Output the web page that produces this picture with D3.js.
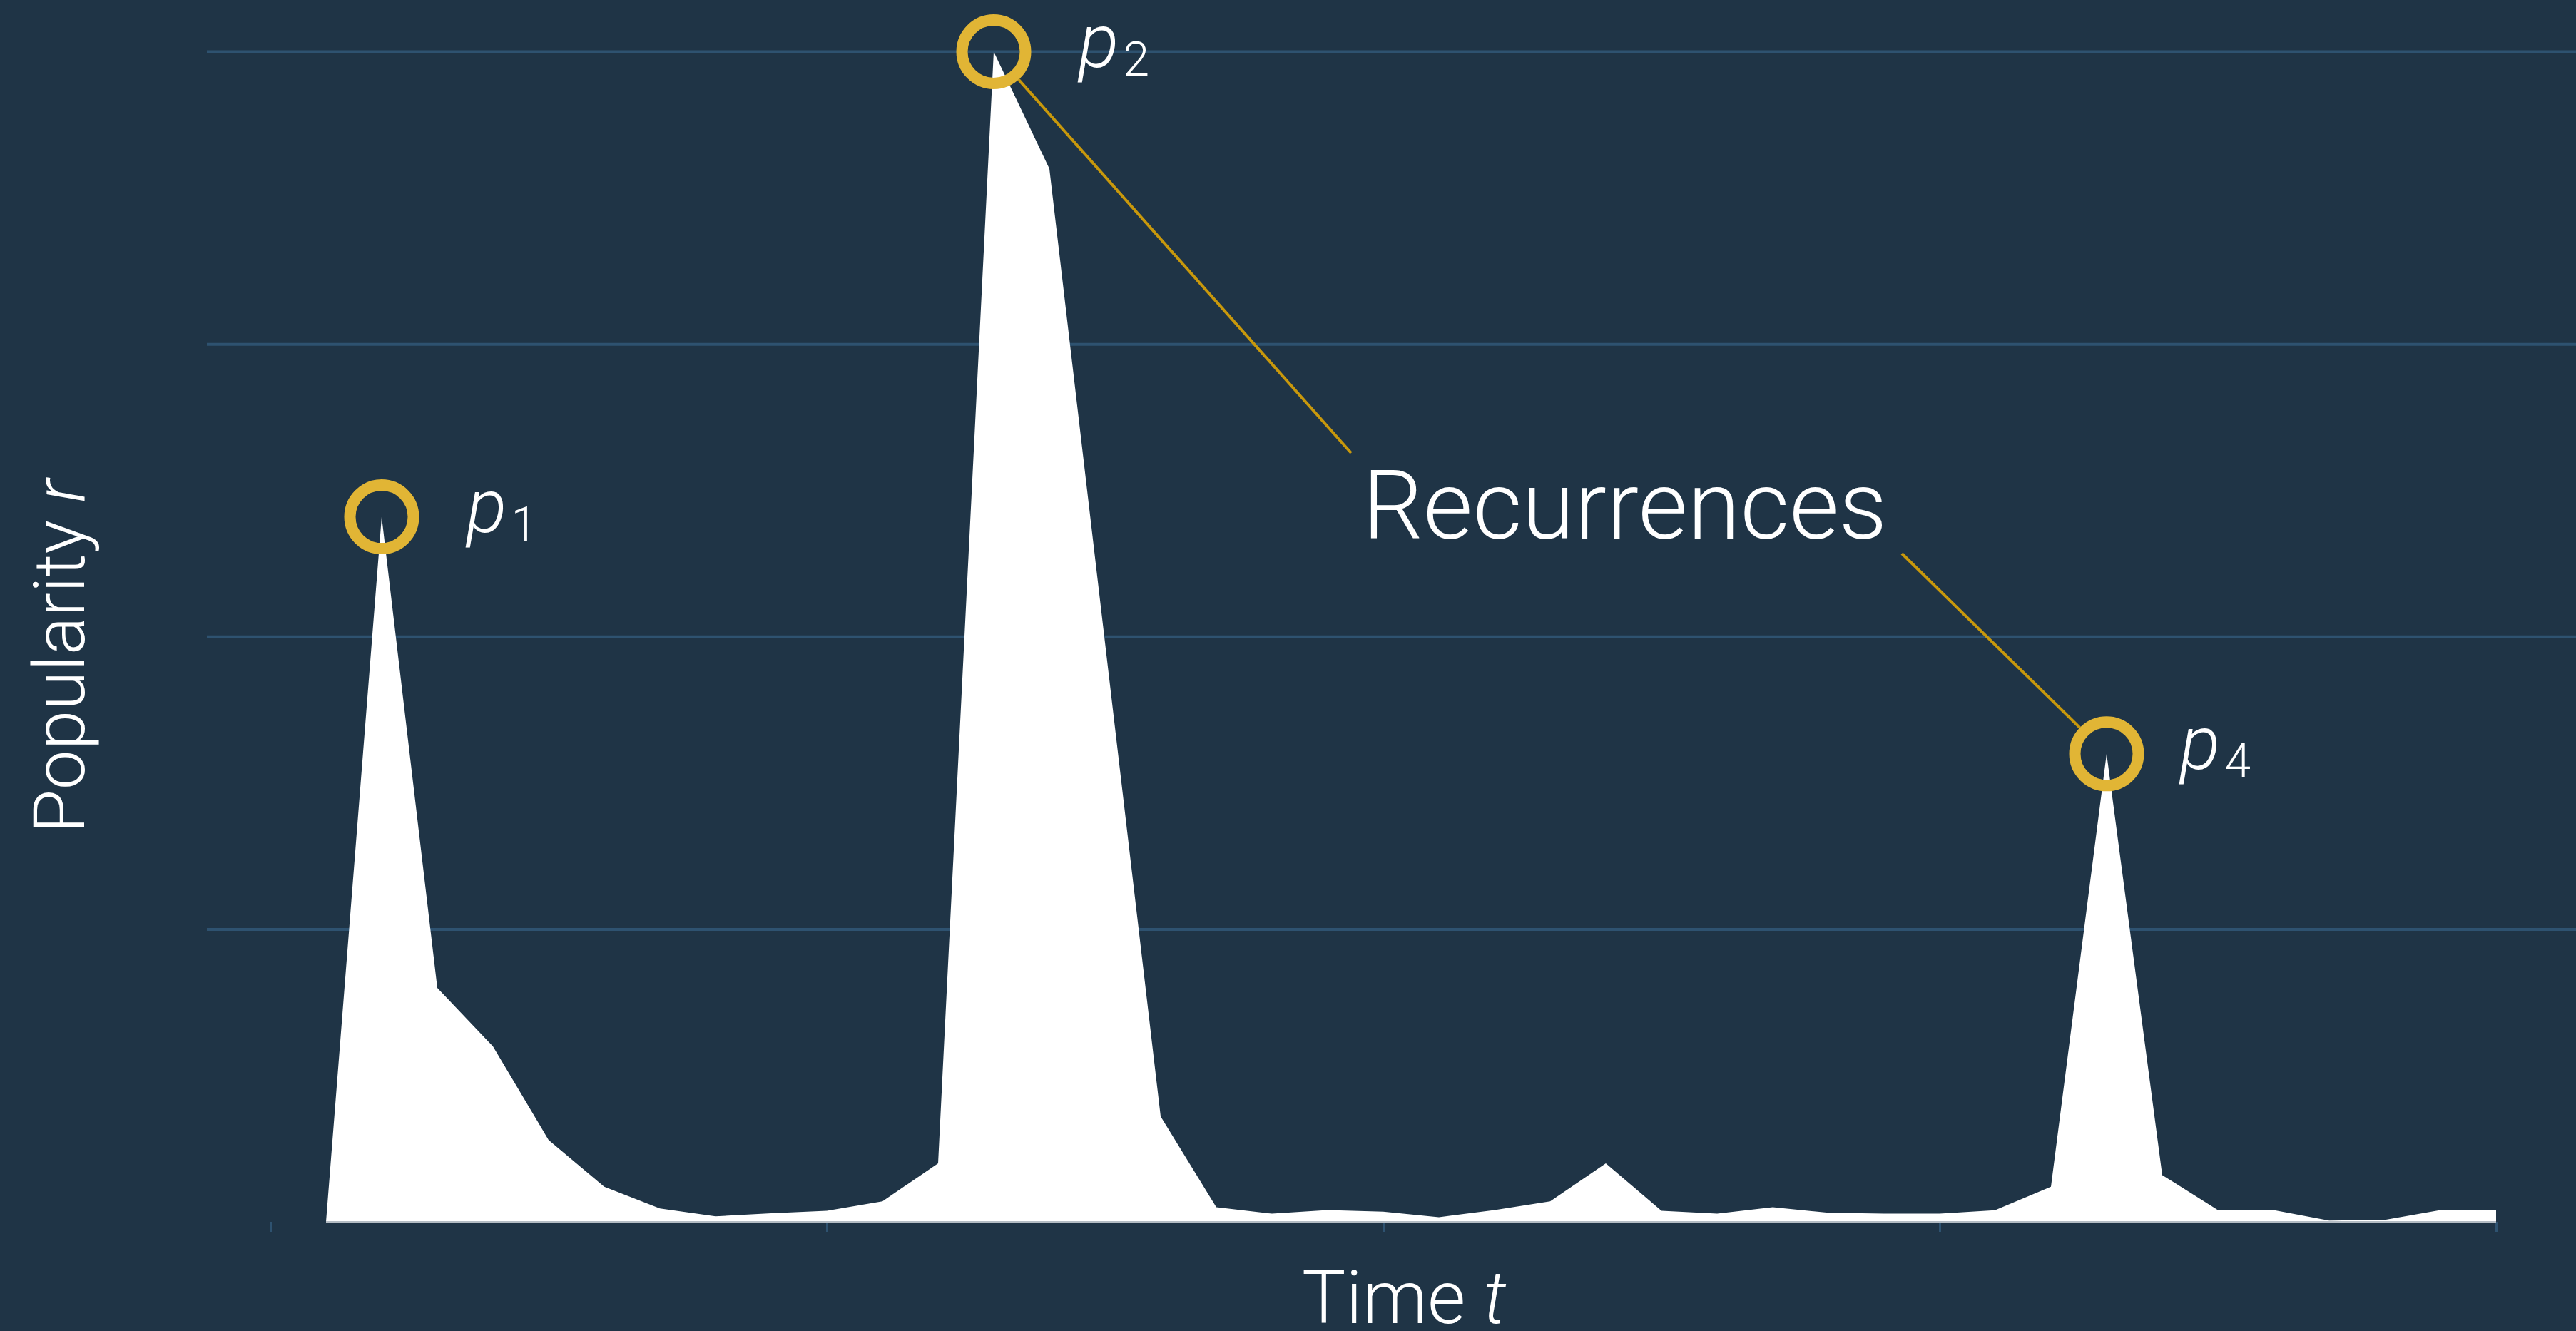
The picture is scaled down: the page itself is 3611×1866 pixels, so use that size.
<!DOCTYPE html>
<html>
<head>
<meta charset="utf-8">
<script src="https://cdn.jsdelivr.net/npm/d3@7"></script>
<style>
  html, body { margin: 0; padding: 0; background: #1f3446; overflow: hidden; }
  svg { display: block; }
  text { font-family: Roboto, "Open Sans", "Liberation Sans", sans-serif; font-weight: 300; fill: #ffffff; }
</style>
</head>
<body>
<script>
// ---- data ----
const times = [1,2,3,4,5,6,7,8,9,10,11,12,13,14,15,16,17,18,19,20,21,22,23,24,25,26,27,28,29,30,31,32,33,34,35,36,37,38,39,40];
const popularity = [0, 2.41, 0.80, 0.60, 0.28, 0.12, 0.046, 0.019, 0.029, 0.038,
                    0.07, 0.20, 4.00, 3.60, 1.98, 0.36, 0.05, 0.028, 0.04, 0.035,
                    0.016, 0.04, 0.07, 0.20, 0.038, 0.028, 0.05, 0.031, 0.028, 0.028,
                    0.04, 0.12, 1.60, 0.16, 0.04, 0.04, 0.004, 0.007, 0.04, 0.04];
const xTicks = [0, 10, 20, 30, 40];
const yGrid = [1, 2, 3, 4];
const peakTimes = [2, 13, 33];
const peakSubs = ["1", "2", "4"];
const annotationText = "Recurrences";
const xTitle = ["Time ", "t"];
const yTitle = ["Popularity ", "r"];

// ---- layout ----
const W = 3611, H = 1866;
const svg = d3.select("body").append("svg").attr("width", W).attr("height", H);
svg.append("rect").attr("width", W).attr("height", H).attr("fill", "#1f3446");

const x = d3.scaleLinear().domain([0, 40]).range([379, 3499]);
const y = d3.scaleLinear().domain([0, 4]).range([1713, 72.5]);

// grid
svg.append("g").selectAll("line").data(yGrid).join("line")
  .attr("x1", 290).attr("x2", W)
  .attr("y1", d => y(d)).attr("y2", d => y(d))
  .attr("stroke", "#2e5270").attr("stroke-width", 4);

// x axis ticks
const xAxis = d3.axisBottom(x).tickValues(xTicks).tickSize(14).tickFormat("");
const gx = svg.append("g").attr("transform", `translate(0,${y(0)})`).call(xAxis);
gx.select(".domain").remove();
gx.selectAll(".tick line").attr("stroke", "#2e5270").attr("stroke-width", 3);

// area
const data = times.map((t, i) => ({t, v: popularity[i]}));
const area = d3.area().x(d => x(d.t)).y0(y(0)).y1(d => y(d.v));
svg.append("path").datum(data).attr("d", area).attr("fill", "#ffffff");
svg.append("line")
  .attr("x1", x(times[0])).attr("x2", x(times[times.length - 1]))
  .attr("y1", y(0)).attr("y2", y(0))
  .attr("stroke", "#b4bcc4").attr("stroke-width", 2);

// annotation
const R = 44.5, SW = 16, Rout = R + SW / 2;
const peaks = peakTimes.map((t, i) => ({t, v: popularity[times.indexOf(t)], sub: peakSubs[i]}));

svg.append("text")
  .attr("x", 1910).attr("y", 755)
  .attr("font-size", 134)
  .text(annotationText);

// connector lines (from text corners to circles of p2 and p4)
const connectors = [
  {from: [1894, 635], peak: peaks[1]},
  {from: [2666, 776], peak: peaks[2]}
];
svg.append("g").selectAll("line").data(connectors).join("line")
  .attr("x1", d => d.from[0]).attr("y1", d => d.from[1])
  .attr("x2", d => {
    const cx = x(d.peak.t), cy = y(d.peak.v);
    const dx = cx - d.from[0], dy = cy - d.from[1], L = Math.hypot(dx, dy);
    return cx - dx / L * Rout;
  })
  .attr("y2", d => {
    const cx = x(d.peak.t), cy = y(d.peak.v);
    const dx = cx - d.from[0], dy = cy - d.from[1], L = Math.hypot(dx, dy);
    return cy - dy / L * Rout;
  })
  .attr("stroke", "#c8980c").attr("stroke-width", 4);

svg.append("g").selectAll("circle").data(peaks).join("circle")
  .attr("cx", d => x(d.t)).attr("cy", d => y(d.v)).attr("r", R)
  .attr("fill", "none").attr("stroke", "#e1b535").attr("stroke-width", SW);

const labels = svg.append("g").selectAll("text").data(peaks).join("text")
  .attr("x", d => x(d.t) + (d.sub === "4" ? 103 : 119))
  .attr("y", d => y(d.v) + 21)
  .attr("font-size", 105);
labels.append("tspan").attr("font-style", "italic").text("p");
labels.append("tspan").attr("font-size", 66).attr("dx", 6).attr("dy", 12).text(d => d.sub);

// axis titles
const xt = svg.append("text").attr("x", 1825).attr("y", 1855).attr("font-size", 103);
xt.append("tspan").text(xTitle[0]);
xt.append("tspan").attr("font-style", "italic").text(xTitle[1]);

const yt = svg.append("text").attr("transform", "translate(118,920) rotate(-90)")
  .attr("text-anchor", "middle").attr("font-size", 100);
yt.append("tspan").text(yTitle[0]);
yt.append("tspan").attr("font-style", "italic").text(yTitle[1]);
</script>
</body>
</html>
